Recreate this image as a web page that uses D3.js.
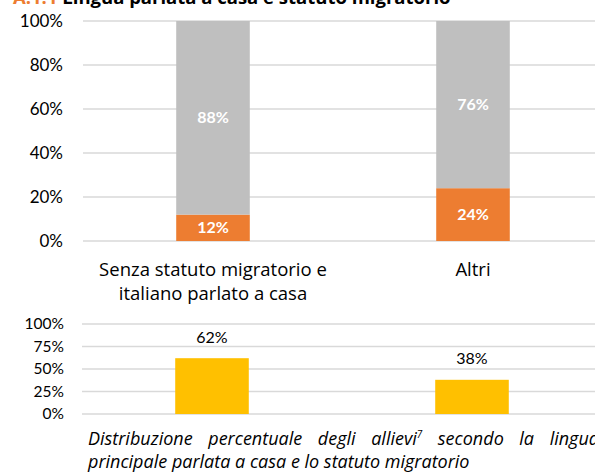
<!DOCTYPE html>
<head>
  <meta charset="utf-8">
  <script src="https://d3js.org/d3.v7.min.js"></script>
  <style>
    body { margin:0; background:#fff; }
    text { font-family: 'Lato', 'Open Sans', sans-serif; }
    .grid-line { stroke: #d9d9d9; stroke-width: 1.5; }
    .tick-label { fill: #000; }
    .in-label { fill: #fff; font-weight: 700; font-size: 16px; text-anchor: middle; }
    text.cat-label, text.caption, text.title { font-family: 'Open Sans', sans-serif; }
  </style>
</head>
<body>
  <script>
    var categories = ["Senza statuto migratorio e italiano parlato a casa", "Altri"];
    var catLines = [["Senza statuto migratorio e", "italiano parlato a casa"], ["Altri"]];
    var italianoCasa = [12, 24];
    var altraLingua = [88, 76];
    var distribuzione = [62, 38];
    var topTicks = [0, 20, 40, 60, 80, 100];
    var bottomTicks = [0, 25, 50, 75, 100];

    var width = 595, height = 473;

    var svg = d3.select("body").append("svg")
        .attr("width", width)
        .attr("height", height);

    // title (cut off at the top in the original)
    var title = svg.append("text")
        .attr("class", "title")
        .attr("x", 13)
        .attr("y", 4)
        .style("font-size", "18.5px")
        .style("font-weight", 700);
    title.append("tspan").attr("fill", "#ed7d31").text("A.1.1 ");
    title.append("tspan").attr("fill", "#000").text("Lingua parlata a casa e statuto migratorio");

    var x = d3.scaleBand()
        .domain(categories)
        .range([83, 603]);
    var barW = x.bandwidth() * 0.283;

    // ---- top stacked chart
    var yTop = d3.scaleLinear().domain([0, 100]).range([241, 21]);

    var gTop = svg.append("g");
    gTop.selectAll("line")
      .data(topTicks)
      .enter().append("line")
        .attr("class", "grid-line")
        .attr("x1", 83).attr("x2", width)
        .attr("y1", d => yTop(d)).attr("y2", d => yTop(d));

    gTop.selectAll(".tick-label")
      .data(topTicks)
      .enter().append("text")
        .attr("class", "tick-label")
        .attr("x", 63)
        .attr("y", d => yTop(d))
        .attr("dy", "0.35em")
        .attr("text-anchor", "end")
        .style("font-size", "17px")
        .text(d => d + "%");

    var stackData = categories.map((c, i) => ({cat: c, a: italianoCasa[i], b: altraLingua[i]}));
    var series = d3.stack().keys(["a", "b"])(stackData);
    var colour = {a: "#ed7d31", b: "#bfbfbf"};

    series.forEach(s => {
      gTop.append("g").selectAll("rect")
        .data(s)
        .enter().append("rect")
          .attr("x", d => x(d.data.cat) + (x.bandwidth() - barW) / 2)
          .attr("width", barW)
          .attr("y", d => yTop(d[1]))
          .attr("height", d => yTop(d[0]) - yTop(d[1]))
          .attr("fill", colour[s.key]);

      gTop.append("g").selectAll("text")
        .data(s)
        .enter().append("text")
          .attr("class", "in-label")
          .attr("x", d => x(d.data.cat) + x.bandwidth() / 2)
          .attr("y", d => (yTop(d[0]) + yTop(d[1])) / 2)
          .attr("dy", "0.35em")
          .text(d => (d[1] - d[0]) + "%");
    });

    // category labels
    gTop.selectAll(".cat-label")
      .data(categories)
      .enter().append("text")
        .attr("class", "cat-label")
        .attr("text-anchor", "middle")
        .style("font-size", "18.5px")
        .attr("x", d => x(d) + x.bandwidth() / 2)
        .attr("y", 276)
        .each(function(d, i) {
          d3.select(this).selectAll("tspan")
            .data(catLines[i])
            .enter().append("tspan")
              .attr("x", x(d) + x.bandwidth() / 2)
              .attr("dy", (l, j) => j === 0 ? 0 : 24)
              .text(l => l);
        });

    // ---- bottom distribution chart
    var yBot = d3.scaleLinear().domain([0, 100]).range([414, 324]);
    var gBot = svg.append("g");

    gBot.selectAll("line")
      .data(bottomTicks)
      .enter().append("line")
        .attr("class", "grid-line")
        .attr("x1", 82).attr("x2", width)
        .attr("y1", d => yBot(d)).attr("y2", d => yBot(d));

    gBot.selectAll(".tick-label")
      .data(bottomTicks)
      .enter().append("text")
        .attr("class", "tick-label")
        .attr("x", 64)
        .attr("y", d => yBot(d))
        .attr("dy", "0.35em")
        .attr("text-anchor", "end")
        .style("font-size", "15.5px")
        .text(d => d + "%");

    gBot.selectAll("rect")
      .data(distribuzione)
      .enter().append("rect")
        .attr("x", (d, i) => x(categories[i]) + (x.bandwidth() - barW) / 2 - 1)
        .attr("width", barW)
        .attr("y", d => yBot(d))
        .attr("height", d => yBot(0) - yBot(d))
        .attr("fill", "#ffc000");

    gBot.selectAll(".val-label")
      .data(distribuzione)
      .enter().append("text")
        .attr("class", "val-label")
        .attr("text-anchor", "middle")
        .style("font-size", "16px")
        .attr("x", (d, i) => x(categories[i]) + x.bandwidth() / 2 - 1)
        .attr("y", d => yBot(d) - 21)
        .attr("dy", "0.35em")
        .text(d => d + "%");

    // ---- caption (justified first line)
    var capLeft = 88, capRight = 599;
    var words1 = ["Distribuzione", "percentuale", "degli", "allievi", "secondo", "la", "lingua"];
    var cap = svg.append("g")
        .style("font-size", "18px")
        .style("font-style", "italic");

    var nodes = words1.map(w => {
      var t = cap.append("text").attr("class", "caption").attr("y", 445).text(w);
      if (w === "allievi") {
        t.append("tspan").attr("baseline-shift", "super").style("font-size", "10px").text("7");
      }
      return t;
    });
    var widths = nodes.map(t => t.node().getComputedTextLength());
    var gap = (capRight - capLeft - d3.sum(widths)) / (words1.length - 1);
    var cx = capLeft;
    nodes.forEach((t, i) => {
      t.attr("x", cx);
      cx += widths[i] + gap;
    });

    cap.append("text")
        .attr("class", "caption")
        .attr("x", capLeft)
        .attr("y", 468)
        .text("principale parlata a casa e lo statuto migratorio");
  </script>
</body>
